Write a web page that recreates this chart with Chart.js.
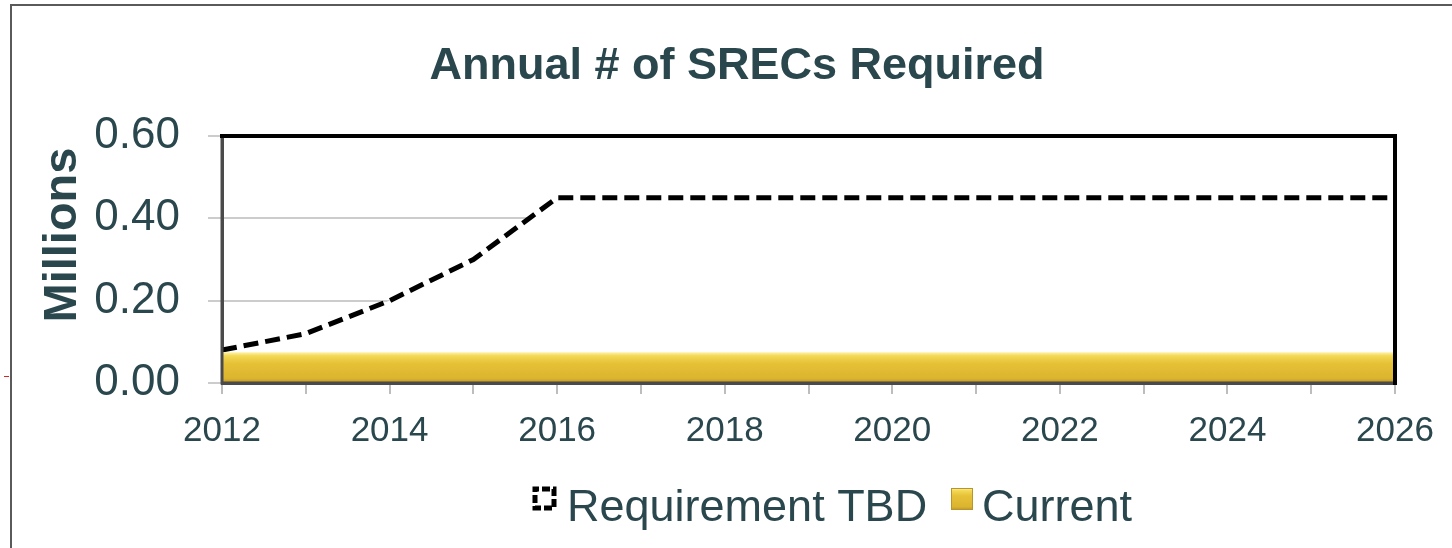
<!DOCTYPE html>
<html>
<head>
<meta charset="utf-8">
<script src="https://cdn.jsdelivr.net/npm/chart.js@4"></script>
<style>
  html, body { margin: 0; padding: 0; background: #fff; }
  #wrap { width: 1452px; height: 548px; position: relative; }
</style>
</head>
<body>
<div id="wrap"><canvas id="c" width="1452" height="548"></canvas></div>
<script>
// ---- data ----
const years = ['2012','2013','2014','2015','2016','2017','2018','2019','2020','2021','2022','2023','2024','2025','2026'];
const requirementTBD = [0.08, 0.12, 0.20, 0.30, 0.45, 0.45, 0.45, 0.45, 0.45, 0.45, 0.45, 0.45, 0.45, 0.45, 0.45];
const current = [0.075, 0.075, 0.075, 0.075, 0.075, 0.075, 0.075, 0.075, 0.075, 0.075, 0.075, 0.075, 0.075, 0.075, 0.075];
const yTicks = [0, 0.2, 0.4, 0.6];
const titleText = 'Annual # of SRECs Required';
const yTitleText = 'Millions';
const seriesNames = ['Requirement TBD', 'Current'];

const TEXT = '#2a474e';
const FONT = '"Liberation Sans", Arial, Helvetica, sans-serif';

function goldGradient(ctx, top, bottom) {
  const g = ctx.createLinearGradient(0, top, 0, bottom);
  g.addColorStop(0, '#fff3b0');
  g.addColorStop(0.12, '#f3d955');
  g.addColorStop(0.35, '#e6c238');
  g.addColorStop(0.85, '#dcb42f');
  g.addColorStop(1, '#b8952a');
  return g;
}

const decorPlugin = {
  id: 'decor',
  beforeDraw(chart) {
    const ctx = chart.ctx;
    ctx.save();
    // outer frame (left & top)
    ctx.strokeStyle = '#5a5a5a';
    ctx.lineWidth = 2;
    ctx.beginPath();
    ctx.moveTo(11, 548);
    ctx.lineTo(11, 5);
    ctx.lineTo(1452, 5);
    ctx.stroke();
    // small red mark
    ctx.strokeStyle = '#d22';
    ctx.lineWidth = 1;
    ctx.beginPath();
    ctx.moveTo(4, 376.5);
    ctx.lineTo(9, 376.5);
    ctx.stroke();
    // title
    ctx.fillStyle = TEXT;
    ctx.font = 'bold 45px ' + FONT;
    ctx.textAlign = 'center';
    ctx.textBaseline = 'alphabetic';
    ctx.fillText(titleText, 737, 79);
    // y title
    ctx.save();
    ctx.translate(76, 235);
    ctx.rotate(-Math.PI / 2);
    ctx.font = 'bold 47px ' + FONT;
    ctx.textAlign = 'center';
    ctx.fillText(yTitleText, 0, 0);
    ctx.restore();
    // legend
    const ds = chart.data.datasets;
    ctx.font = '45px ' + FONT;
    ctx.textAlign = 'left';
    // dashed box
    ctx.fillStyle = '#fff';
    ctx.fillRect(535, 489, 19, 19);
    ctx.strokeStyle = '#000';
    ctx.lineWidth = 5;
    ctx.setLineDash([8, 3]);
    ctx.lineDashOffset = 4;
    ctx.strokeRect(535, 489, 19, 19);
    ctx.setLineDash([]);
    ctx.fillStyle = TEXT;
    ctx.fillText(ds[0].label, 567, 521);
    // gold box
    ctx.fillStyle = goldGradient(ctx, 488, 510);
    ctx.fillRect(951, 488, 22, 22);
    ctx.strokeStyle = '#b8952a';
    ctx.lineWidth = 1;
    ctx.strokeRect(951.5, 488.5, 21, 21);
    ctx.fillStyle = TEXT;
    ctx.fillText(ds[1].label, 982, 521);
    ctx.restore();
  },
  afterDatasetsDraw(chart) {
    const ctx = chart.ctx;
    const a = chart.chartArea;
    ctx.save();
    // left & bottom axis lines over fills
    ctx.strokeStyle = '#4a4a4a';
    ctx.lineWidth = 3;
    ctx.beginPath();
    ctx.moveTo(a.left, a.top);
    ctx.lineTo(a.left, a.bottom);
    ctx.lineTo(a.right, a.bottom);
    ctx.stroke();
    // top & right black border
    ctx.strokeStyle = '#000';
    ctx.lineWidth = 4;
    ctx.lineCap = 'square';
    ctx.beginPath();
    ctx.moveTo(a.left, a.top);
    ctx.lineTo(a.right, a.top);
    ctx.lineTo(a.right, a.bottom);
    ctx.stroke();
    ctx.restore();
  }
};

new Chart(document.getElementById('c'), {
  type: 'line',
  data: {
    labels: years,
    datasets: [
      {
        label: seriesNames[0],
        data: requirementTBD,
        borderColor: '#000',
        borderWidth: 5,
        borderDash: [15, 7],
        backgroundColor: '#ffffff',
        fill: 'origin',
        pointRadius: 0,
        tension: 0,
        order: 1
      },
      {
        label: seriesNames[1],
        data: current,
        borderWidth: 0,
        borderColor: 'rgba(0,0,0,0)',
        backgroundColor: (c) => {
          const ch = c.chart;
          if (!ch.chartArea) return '#e0b830';
          const ys = ch.scales.y;
          return goldGradient(ch.ctx, ys.getPixelForValue(current[0]), ys.getPixelForValue(0));
        },
        fill: 'origin',
        pointRadius: 0,
        order: 0
      }
    ]
  },
  options: {
    responsive: false,
    animation: false,
    devicePixelRatio: 1,
    layout: { padding: { top: 136, right: 57, bottom: 0, left: 0 } },
    plugins: {
      legend: { display: false },
      title: { display: false },
      tooltip: { enabled: false }
    },
    scales: {
      x: {
        type: 'category',
        offset: false,
        afterFit: (s) => { s.height = 165; },
        grid: { drawOnChartArea: false, drawTicks: true, tickLength: 11, color: '#bdbdbd', lineWidth: 2 },
        border: { display: true, color: '#4a4a4a', width: 3 },
        ticks: {
          autoSkip: false,
          maxRotation: 0,
          padding: 16,
          color: TEXT,
          font: { size: 35, family: FONT },
          callback: function (v, i) { return i % 2 === 0 ? this.getLabelForValue(v) : ''; }
        }
      },
      y: {
        min: 0,
        max: 0.6,
        afterFit: (s) => { s.width = 222; },
        afterBuildTicks: (s) => { s.ticks = yTicks.map(v => ({ value: v })); },
        grid: { color: '#cccccc', lineWidth: 2, tickLength: 14, drawTicks: true },
        border: { display: true, color: '#4a4a4a', width: 3 },
        ticks: {
          padding: 28,
          color: TEXT,
          font: { size: 44, family: FONT },
          callback: (v) => Number(v).toFixed(2)
        }
      }
    }
  },
  plugins: [decorPlugin]
});
</script>
</body>
</html>
